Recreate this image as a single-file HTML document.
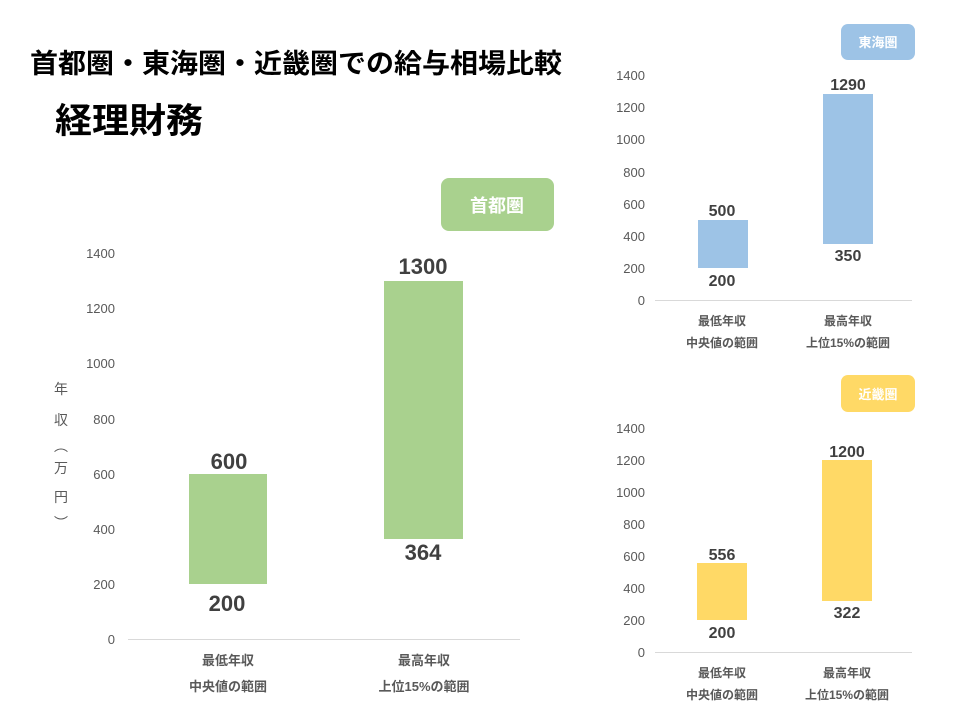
<!DOCTYPE html>
<html><head><meta charset="utf-8"><style>
body{margin:0;background:#fff;width:960px;height:720px;overflow:hidden}
svg text{font-family:"Liberation Sans","Noto Sans CJK JP",sans-serif}
</style></head><body>
<svg width="960" height="720" viewBox="0 0 960 720">
<text x="30" y="73" font-size="27" font-weight="bold" fill="#000" textLength="532" lengthAdjust="spacingAndGlyphs">首都圏・東海圏・近畿圏での給与相場比較</text>
<text x="55" y="133" font-size="35" font-weight="bold" fill="#000" textLength="148" lengthAdjust="spacingAndGlyphs">経理財務</text>

<!-- main chart -->
<rect x="441" y="178" width="113" height="53" rx="8" fill="#a9d18e"/>
<text x="497" y="212" font-size="18" font-weight="bold" fill="#fff" text-anchor="middle">首都圏</text>
<g font-size="13" fill="#595959" text-anchor="end">
<text x="115" y="644">0</text><text x="115" y="589">200</text><text x="115" y="534">400</text>
<text x="115" y="479">600</text><text x="115" y="424">800</text><text x="115" y="368">1000</text>
<text x="115" y="313">1200</text><text x="115" y="258">1400</text></g>
<g font-size="14" fill="#595959" text-anchor="middle">
<text x="61" y="394">年</text><text x="61" y="425">収</text><text x="61" y="451">︵</text>
<text x="61" y="473">万</text><text x="61" y="502">円</text><text x="61" y="528">︶</text></g>
<line x1="128" y1="639.5" x2="520" y2="639.5" stroke="#d9d9d9"/>
<rect x="189" y="474" width="78" height="110" fill="#a9d18e"/>
<rect x="384" y="281" width="79" height="258" fill="#a9d18e"/>
<g font-size="22" font-weight="bold" fill="#404040" text-anchor="middle">
<text x="229" y="469">600</text><text x="227" y="611">200</text>
<text x="423" y="274">1300</text><text x="423" y="560">364</text></g>
<g font-size="13" font-weight="bold" fill="#595959" text-anchor="middle">
<text x="228" y="665">最低年収</text><text x="228" y="691">中央値の範囲</text>
<text x="424" y="665">最高年収</text><text x="424" y="691">上位15%の範囲</text></g>

<!-- Tokai -->
<rect x="841" y="24" width="74" height="36" rx="7" fill="#9dc3e6"/>
<text x="878" y="47" font-size="13" font-weight="bold" fill="#fff" text-anchor="middle">東海圏</text>
<g font-size="13" fill="#595959" text-anchor="end">
<text x="645" y="305">0</text><text x="645" y="273">200</text><text x="645" y="241">400</text>
<text x="645" y="209">600</text><text x="645" y="177">800</text><text x="645" y="144">1000</text>
<text x="645" y="112">1200</text><text x="645" y="80">1400</text></g>
<line x1="655" y1="300.5" x2="912" y2="300.5" stroke="#d9d9d9"/>
<rect x="698" y="220" width="50" height="48" fill="#9dc3e6"/>
<rect x="823" y="94" width="50" height="150" fill="#9dc3e6"/>
<g font-size="16" font-weight="bold" fill="#404040" text-anchor="middle">
<text x="722" y="216">500</text><text x="722" y="286">200</text>
<text x="848" y="90">1290</text><text x="848" y="261">350</text></g>
<g font-size="12" font-weight="bold" fill="#595959" text-anchor="middle">
<text x="722" y="325">最低年収</text><text x="722" y="347">中央値の範囲</text>
<text x="848" y="325">最高年収</text><text x="848" y="347">上位15%の範囲</text></g>

<!-- Kinki -->
<rect x="841" y="375" width="74" height="37" rx="7" fill="#ffd966"/>
<text x="878" y="399" font-size="13" font-weight="bold" fill="#fff" text-anchor="middle">近畿圏</text>
<g font-size="13" fill="#595959" text-anchor="end">
<text x="645" y="657">0</text><text x="645" y="625">200</text><text x="645" y="593">400</text>
<text x="645" y="561">600</text><text x="645" y="529">800</text><text x="645" y="497">1000</text>
<text x="645" y="465">1200</text><text x="645" y="433">1400</text></g>
<line x1="655" y1="652.5" x2="912" y2="652.5" stroke="#d9d9d9"/>
<rect x="697" y="563" width="50" height="57" fill="#ffd966"/>
<rect x="822" y="460" width="50" height="141" fill="#ffd966"/>
<g font-size="16" font-weight="bold" fill="#404040" text-anchor="middle">
<text x="722" y="560">556</text><text x="722" y="638">200</text>
<text x="847" y="457">1200</text><text x="847" y="618">322</text></g>
<g font-size="12" font-weight="bold" fill="#595959" text-anchor="middle">
<text x="722" y="677">最低年収</text><text x="722" y="699">中央値の範囲</text>
<text x="847" y="677">最高年収</text><text x="847" y="699">上位15%の範囲</text></g>
</svg>
</body></html>
